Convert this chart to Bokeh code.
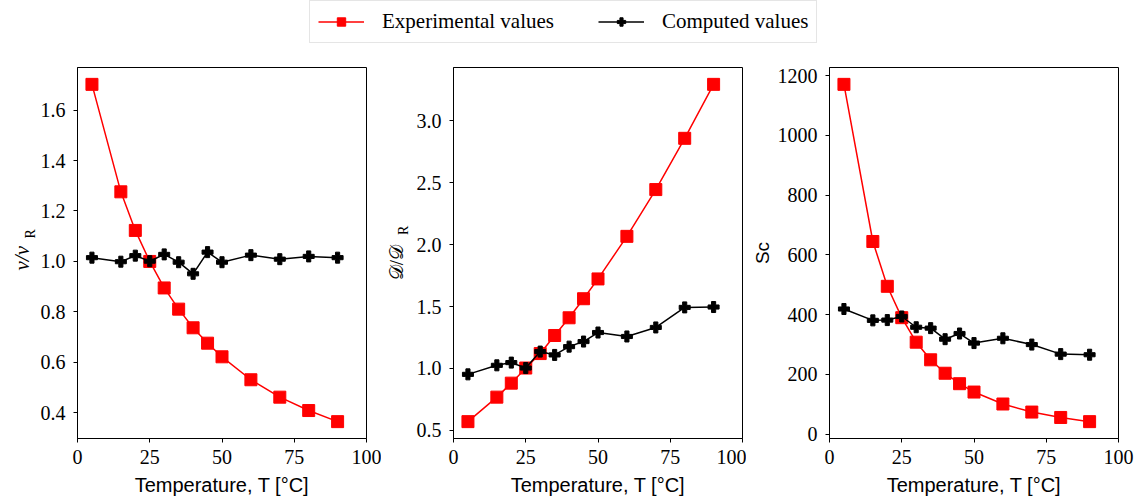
from bokeh.plotting import figure
from bokeh.layouts import column, row
from bokeh.models import (Legend, LegendItem, FixedTicker, Range1d,
                          PrintfTickFormatter, LinearAxis)
from bokeh.embed import file_html
from bokeh.resources import INLINE

# ---- data ----
temperature = [5, 15, 20, 25, 30, 35, 40, 45, 50, 60, 70, 80, 90]

visc_exp = [1.702, 1.276, 1.123, 1.000, 0.895, 0.811, 0.737, 0.676, 0.622, 0.531, 0.462, 0.409, 0.365]
visc_comp = [1.015, 0.999, 1.023, 1.001, 1.028, 0.997, 0.951, 1.037, 0.997, 1.025, 1.009, 1.020, 1.015]

diff_exp = [0.570, 0.768, 0.881, 1.003, 1.120, 1.266, 1.409, 1.563, 1.723, 2.067, 2.445, 2.859, 3.295]
diff_comp = [0.952, 1.025, 1.047, 1.003, 1.136, 1.109, 1.176, 1.217, 1.290, 1.258, 1.331, 1.493, 1.496]

sc_exp = [1171, 645, 495, 390, 308, 249, 204, 169, 141, 101, 74, 56, 42]
sc_comp = [419, 381, 382, 394, 358, 355, 318, 337, 305, 321, 300, 268, 266]

x_ticks = [0, 25, 50, 75, 100]
visc_ticks = [0.4, 0.6, 0.8, 1.0, 1.2, 1.4, 1.6]
diff_ticks = [0.5, 1.0, 1.5, 2.0, 2.5, 3.0]
sc_ticks = [0, 200, 400, 600, 800, 1000, 1200]

legend_labels = ["Experimental values", "Computed values"]
x_label = "Temperature, T [°C]"
NB = "\u00a0"
visc_label = "ν/ν" + NB * 2
visc_sub = NB * 11 + "R"
diff_label = "𝒟/𝒟" + NB * 4
diff_sub = NB * 13 + "R"
sc_label = "Sc"

RED = "#ff0000"
BLACK = "#000000"
SERIF = "Liberation Serif"
SANS = "Liberation Sans"
ROW_H = 435


def pad(lo, hi, f=0.05):
    d = (hi - lo) * f
    return lo - d, hi + d


def make_panel(y_exp, y_comp, ticks, fmt, bl, br):
    lo, hi = pad(min(y_exp + y_comp), max(y_exp + y_comp))
    p = figure(frame_width=289, frame_height=371,
               x_range=Range1d(0, 100), y_range=Range1d(lo, hi),
               min_border_left=bl, min_border_right=br,
               min_border_top=5, min_border_bottom=ROW_H - 5 - 371,
               toolbar_location=None, output_backend="svg")
    p.background_fill_color = "white"
    p.border_fill_color = "white"
    p.outline_line_color = "black"
    p.outline_line_width = 1
    p.grid.visible = False
    for ax in (p.xaxis[0], p.yaxis[0]):
        ax.major_tick_out = 4
        ax.major_tick_in = 0
        ax.minor_tick_line_color = None
        ax.axis_line_color = "black"
        ax.major_tick_line_color = "black"
        ax.major_label_text_font = SERIF
        ax.major_label_text_font_size = "20px"
        ax.major_label_text_color = "#000000"
    p.xaxis[0].ticker = FixedTicker(ticks=x_ticks)
    p.xaxis[0].major_label_standoff = 7
    p.xaxis[0].axis_label = x_label
    p.xaxis[0].axis_label_text_font = SANS
    p.xaxis[0].axis_label_text_font_style = "normal"
    p.xaxis[0].axis_label_text_font_size = "20px"
    p.xaxis[0].axis_label_text_color = "black"
    p.xaxis[0].axis_label_standoff = 7
    p.yaxis[0].ticker = FixedTicker(ticks=ticks)
    p.yaxis[0].formatter = PrintfTickFormatter(format=fmt)
    p.yaxis[0].major_label_standoff = 8

    p.line(temperature, y_exp, line_color=RED, line_width=1.5)
    p.scatter(temperature, y_exp, marker="square", size=12,
              fill_color=RED, line_color=RED)
    p.line(temperature, y_comp, line_color=BLACK, line_width=1.5)
    p.scatter(temperature, y_comp, marker="plus", size=11,
              fill_color=BLACK, line_color=BLACK)
    return p


def set_ylabel(p, main, sub, main_font, main_style, main_size, s_sub, s_main):
    ax = p.yaxis[0]
    if sub:
        ax.axis_label = sub
        ax.axis_label_text_font = SERIF
        ax.axis_label_text_font_style = "normal"
        ax.axis_label_text_font_size = "14px"
        ax.axis_label_text_color = "black"
        ax.axis_label_standoff = s_sub
        extra = LinearAxis(ticker=FixedTicker(ticks=[]), axis_line_color=None,
                           major_tick_line_color=None, minor_tick_line_color=None,
                           major_tick_out=0, major_label_standoff=0,
                           axis_label=main, axis_label_text_font=main_font,
                           axis_label_text_font_style=main_style,
                           axis_label_text_font_size=main_size,
                           axis_label_text_color="black",
                           axis_label_standoff=s_main)
        p.add_layout(extra, "left")
    else:
        ax.axis_label = main
        ax.axis_label_text_font = main_font
        ax.axis_label_text_font_style = main_style
        ax.axis_label_text_font_size = main_size
        ax.axis_label_text_color = "black"
        ax.axis_label_standoff = s_main


p1 = make_panel(visc_exp, visc_comp, visc_ticks, "%.1f", 77, 15)
set_ylabel(p1, visc_label, visc_sub, SERIF, "italic", "21px", 0, -14)
p2 = make_panel(diff_exp, diff_comp, diff_ticks, "%.1f", 72, 4)
set_ylabel(p2, diff_label, diff_sub, SERIF, "normal", "19px", 3, -14)
p3 = make_panel(sc_exp, sc_comp, sc_ticks, "%d", 83, 26)
set_ylabel(p3, sc_label, "", SANS, "normal", "19px", 0, 2)

# ---- legend figure ----
LEG_H = 62
lf = figure(width=1144, height=LEG_H, x_range=Range1d(0, 1), y_range=Range1d(0, 1),
            x_axis_location=None, y_axis_location=None, min_border=0,
            toolbar_location=None, output_backend="svg")
lf.outline_line_color = None
lf.grid.visible = False
r1 = lf.line([-5, -4], [-5, -4], line_color=RED, line_width=1.5)
r2 = lf.scatter([-5], [-5], marker="square", size=12, fill_color=RED, line_color=RED)
r3 = lf.line([-5, -4], [-5, -4], line_color=BLACK, line_width=1.5)
r4 = lf.scatter([-5], [-5], marker="plus", size=11, fill_color=BLACK, line_color=BLACK)
legend = Legend(items=[LegendItem(label=legend_labels[0], renderers=[r1, r2]),
                       LegendItem(label=legend_labels[1], renderers=[r3, r4])],
                orientation="horizontal", location=(309, 19), margin=0,
                padding=8, spacing=44, glyph_width=46, glyph_height=21,
                label_height=21, label_standoff=18,
                label_text_font=SERIF, label_text_font_size="21px",
                label_text_color="black",
                border_line_color="#cccccc", border_line_width=1,
                background_fill_color="white", background_fill_alpha=1)
lf.add_layout(legend)

layout = column(lf, row(p1, p2, p3, spacing=0), spacing=0)
open("out.html", "w").write(file_html(layout, INLINE))
